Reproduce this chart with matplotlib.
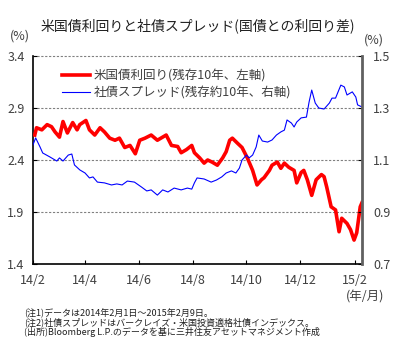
import matplotlib
matplotlib.use("Agg")
import matplotlib.pyplot as plt
import pandas as pd

plt.rcParams['font.family'] = ['Noto Sans CJK JP', 'DejaVu Sans']

# 米国債利回り（残存10年）
yield_dates = [
    "2014-02-03", "2014-02-05", "2014-02-11", "2014-02-17", "2014-02-22", "2014-02-26",
    "2014-03-03", "2014-03-07", "2014-03-12", "2014-03-18", "2014-03-23", "2014-03-26",
    "2014-04-02", "2014-04-06", "2014-04-12", "2014-04-18", "2014-04-23", "2014-04-29",
    "2014-05-05", "2014-05-10", "2014-05-16", "2014-05-22", "2014-05-28", "2014-06-02",
    "2014-06-08", "2014-06-15", "2014-06-22", "2014-07-02", "2014-07-08", "2014-07-15",
    "2014-07-19", "2014-07-25", "2014-07-31", "2014-08-03", "2014-08-09", "2014-08-14",
    "2014-08-18", "2014-08-23", "2014-08-29", "2014-09-04", "2014-09-08", "2014-09-12",
    "2014-09-15", "2014-09-21", "2014-09-26", "2014-10-02", "2014-10-08", "2014-10-13",
    "2014-10-18", "2014-10-21", "2014-10-27", "2014-10-30", "2014-11-05", "2014-11-09",
    "2014-11-13", "2014-11-18", "2014-11-24", "2014-11-27", "2014-12-02", "2014-12-05",
    "2014-12-09", "2014-12-14", "2014-12-19", "2014-12-25", "2014-12-28", "2014-12-31",
    "2015-01-05", "2015-01-10", "2015-01-14", "2015-01-17", "2015-01-23", "2015-01-27",
    "2015-01-31", "2015-02-03", "2015-02-07", "2015-02-09",
]
yield_values = [
    2.64, 2.71, 2.69, 2.74, 2.72, 2.67,
    2.62, 2.77, 2.66, 2.76, 2.69, 2.74,
    2.78, 2.69, 2.64, 2.71, 2.67, 2.61,
    2.59, 2.61, 2.52, 2.54, 2.46, 2.59,
    2.61, 2.64, 2.59, 2.64, 2.54, 2.53,
    2.47, 2.50, 2.54, 2.47, 2.42, 2.37,
    2.40, 2.38, 2.35, 2.42, 2.48, 2.59,
    2.61, 2.56, 2.52, 2.42, 2.30, 2.16,
    2.21, 2.23, 2.30, 2.35, 2.38, 2.32,
    2.37, 2.33, 2.30, 2.18, 2.28, 2.30,
    2.21, 2.06, 2.21, 2.26, 2.24, 2.14,
    1.95, 1.92, 1.71, 1.84, 1.79, 1.73,
    1.63, 1.70, 1.95, 1.99,
]

# 社債スプレッド（残存約10年）
spread_dates = [
    "2014-02-01", "2014-02-04", "2014-02-09", "2014-02-12", "2014-02-20", "2014-02-28",
    "2014-03-03", "2014-03-07", "2014-03-13", "2014-03-17", "2014-03-20", "2014-03-26",
    "2014-04-01", "2014-04-06", "2014-04-10", "2014-04-15", "2014-04-23", "2014-05-01",
    "2014-05-07", "2014-05-13", "2014-05-19", "2014-05-27", "2014-06-04", "2014-06-10",
    "2014-06-15", "2014-06-22", "2014-06-28", "2014-07-04", "2014-07-11", "2014-07-19",
    "2014-07-26", "2014-07-31", "2014-08-03", "2014-08-06", "2014-08-14", "2014-08-22",
    "2014-08-28", "2014-09-03", "2014-09-08", "2014-09-14", "2014-09-19", "2014-09-23",
    "2014-09-26", "2014-10-01", "2014-10-04", "2014-10-08", "2014-10-12", "2014-10-15",
    "2014-10-19", "2014-10-25", "2014-10-30", "2014-11-04", "2014-11-09", "2014-11-13",
    "2014-11-16", "2014-11-21", "2014-11-24", "2014-11-27", "2014-12-02", "2014-12-08",
    "2014-12-11", "2014-12-14", "2014-12-18", "2014-12-22", "2014-12-28", "2015-01-03",
    "2015-01-06", "2015-01-10", "2015-01-16", "2015-01-20", "2015-01-23", "2015-01-29",
    "2015-02-02", "2015-02-04", "2015-02-09",
]
spread_values = [
    1.158, 1.185, 1.150, 1.127, 1.112, 1.096,
    1.108, 1.096, 1.119, 1.123, 1.081, 1.062,
    1.050, 1.031, 1.035, 1.015, 1.012, 1.004,
    1.008, 1.004, 1.019, 1.015, 0.996, 0.981,
    0.985, 0.965, 0.985, 0.977, 0.992, 0.985,
    0.992, 0.988, 1.012, 1.031, 1.027, 1.015,
    1.023, 1.035, 1.050, 1.058, 1.050, 1.069,
    1.100, 1.119, 1.108, 1.119, 1.150, 1.196,
    1.173, 1.169, 1.177, 1.196, 1.208, 1.215,
    1.254, 1.242, 1.227, 1.246, 1.262, 1.265,
    1.323, 1.369, 1.319, 1.300, 1.296, 1.319,
    1.338, 1.338, 1.388, 1.381, 1.350, 1.362,
    1.342, 1.312, 1.304,
]

x_ticks = ["2014-02-01", "2014-04-01", "2014-06-01", "2014-08-01",
           "2014-10-01", "2014-12-01", "2015-02-01"]
x_tick_labels = ["14/2", "14/4", "14/6", "14/8", "14/10", "14/12", "15/2"]
left_ticks = [1.4, 1.9, 2.4, 2.9, 3.4]
right_ticks = [0.7, 0.9, 1.1, 1.3, 1.5]

notes = [
    "(注1)データは2014年2月1日～2015年2月9日。",
    "(注2)社債スプレッドはバークレイズ・米国投資適格社債インデックス。",
    "(出所)Bloomberg L.P.のデータを基に三井住友アセットマネジメント作成",
]

text_color = "#404040"

fig = plt.figure(figsize=(4.01, 3.5), dpi=100)
ax = fig.add_axes([33 / 401, 1 - 264 / 350, (362 - 33) / 401, (264 - 56) / 350])
ax2 = ax.twinx()

ax.plot(pd.to_datetime(yield_dates), yield_values, color="#ff0000", lw=2.6,
        label="米国債利回り(残存10年、左軸)", zorder=3)
ax2.plot(pd.to_datetime(spread_dates), spread_values, color="#0000ff", lw=0.8,
         label="社債スプレッド(残存約10年、右軸)")

ax.set_xlim(pd.Timestamp("2014-02-01"), pd.Timestamp("2015-02-09"))
ax.set_ylim(1.4, 3.4)
ax2.set_ylim(0.7, 1.5)
ax.set_yticks(left_ticks)
ax.set_yticklabels([f"{v:.1f}" for v in left_ticks])
ax2.set_yticks(right_ticks)
ax2.set_yticklabels([f"{v:.1f}" for v in right_ticks])
ax.set_xticks(pd.to_datetime(x_ticks))
ax.set_xticklabels(x_tick_labels)

# dashed horizontal guides, including the top edge
for v in left_ticks[1:]:
    ax.axhline(v, color="#808080", lw=0.8, ls=(0, (2, 1.5)), zorder=1,
               clip_on=False)

ax.tick_params(axis="x", direction="in", length=3, pad=7, labelsize=9,
               labelcolor=text_color)
ax.tick_params(axis="y", direction="in", length=3, pad=6, labelsize=9,
               labelcolor=text_color)
ax2.tick_params(axis="y", direction="in", length=3, pad=8, labelsize=9,
                labelcolor=text_color)

ax.spines["top"].set_visible(False)
ax2.spines["top"].set_visible(False)
ax2.spines["left"].set_visible(False)
ax2.spines["bottom"].set_visible(False)
ax.spines["right"].set_visible(False)
ax.spines["left"].set_linewidth(1.2)
ax.spines["bottom"].set_linewidth(1.2)
ax2.spines["right"].set_color("#606060")
ax2.spines["right"].set_linewidth(2)

# legend built from both axes
h1, l1 = ax.get_legend_handles_labels()
h2, l2 = ax2.get_legend_handles_labels()
ax2.legend(h1 + h2, l1 + l2, loc="upper left", bbox_to_anchor=(0.055, 0.99),
           frameon=False, fontsize=9, handlelength=2.2, handletextpad=0.3,
           labelspacing=0.35, labelcolor=text_color)

fig.text(198 / 401, 1 - 26 / 350, "米国債利回りと社債スプレッド(国債との利回り差)",
         ha="center", va="center", fontsize=10, color="#202020")
fig.text(20 / 401, 1 - 36 / 350, "(%)", ha="center", va="center",
         fontsize=9, color=text_color)
fig.text(374 / 401, 1 - 40 / 350, "(%)", ha="center", va="center",
         fontsize=9, color=text_color)
fig.text(365 / 401, 1 - 297 / 350, "(年/月)", ha="center", va="center",
         fontsize=9, color=text_color)
for i, line in enumerate(notes):
    fig.text(24 / 401, 1 - (313 + 9.5 * i) / 350, line, ha="left", va="center",
             fontsize=6.5, color="#202020")

fig.savefig("out.png", dpi=100)
